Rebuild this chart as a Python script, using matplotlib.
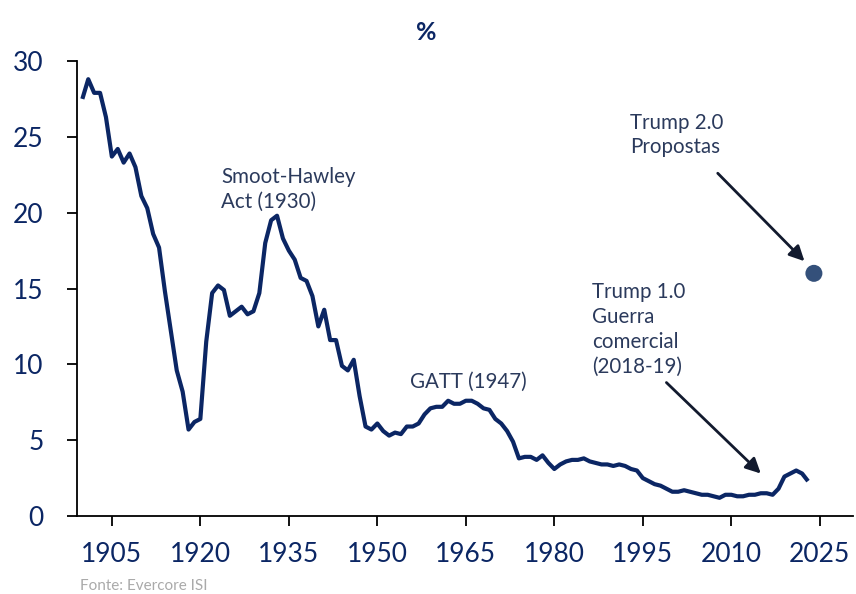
import matplotlib
matplotlib.use("Agg")
import matplotlib.pyplot as plt

years = list(range(1900, 2024))
tariff = [27.5, 28.8, 27.9, 27.9, 26.3, 23.7, 24.2, 23.3, 23.9, 23.0,
          21.1, 20.3, 18.6, 17.7, 14.8, 12.2, 9.6, 8.2, 5.7, 6.2,
          6.4, 11.5, 14.7, 15.2, 14.9, 13.2, 13.5, 13.8, 13.3, 13.5,
          14.7, 18.0, 19.5, 19.8, 18.3, 17.5, 16.9, 15.7, 15.5, 14.5,
          12.5, 13.6, 11.6, 11.6, 9.9, 9.6, 10.3, 7.9, 5.9, 5.7,
          6.1, 5.6, 5.3, 5.5, 5.4, 5.9, 5.9, 6.1, 6.7, 7.1,
          7.2, 7.2, 7.6, 7.4, 7.4, 7.6, 7.6, 7.4, 7.1, 7.0,
          6.4, 6.1, 5.6, 4.9, 3.8, 3.9, 3.9, 3.7, 4.0, 3.5,
          3.1, 3.4, 3.6, 3.7, 3.7, 3.8, 3.6, 3.5, 3.4, 3.4,
          3.3, 3.4, 3.3, 3.1, 3.0, 2.5, 2.3, 2.1, 2.0, 1.8,
          1.6, 1.6, 1.7, 1.6, 1.5, 1.4, 1.4, 1.3, 1.2, 1.4,
          1.4, 1.3, 1.3, 1.4, 1.4, 1.5, 1.5, 1.4, 1.8, 2.6,
          2.8, 3.0, 2.8, 2.3]
proposal_year = [2024]
proposal_value = [16.0]
xticks = [1905, 1920, 1935, 1950, 1965, 1980, 1995, 2010, 2025]
yticks = [0, 5, 10, 15, 20, 25, 30]

plt.rcParams['font.family'] = ['Lato', 'DejaVu Sans']

navy = '#0b2664'
text_col = '#2b3a5c'

fig = plt.figure(figsize=(8.56, 5.94), dpi=100)
ax = fig.add_axes([0.09, 0.1313, 0.907, 0.766])
ax.plot(years, tariff, color=navy, lw=3.0, solid_joinstyle='round', solid_capstyle='butt')
ax.scatter(proposal_year, proposal_value, s=150, color='#34507a', zorder=3, edgecolor='none')

ax.set_xlim(1899.1, 2030.7)
ax.set_ylim(0, 30)
ax.set_xticks(xticks)
ax.set_yticks(yticks)
for s in ['top', 'right']:
    ax.spines[s].set_visible(False)
for s in ['left', 'bottom']:
    ax.spines[s].set_linewidth(1.3)
    ax.spines[s].set_color('black')
ax.tick_params(axis='both', length=7, width=1.3, color='black', labelsize=19, labelcolor=navy)
ax.tick_params(axis='y', pad=17)
ax.tick_params(axis='x', pad=12)

fs = 14.8
ls = 1.3
ax.text(1923.5, 23.0, 'Smoot-Hawley\nAct (1930)', fontsize=fs, color=text_col, va='top', ha='left', linespacing=ls)
ax.text(1955.6, 9.5, 'GATT (1947)', fontsize=fs, color=text_col, va='top', ha='left')
ax.text(1992.8, 26.6, 'Trump 2.0\nPropostas', fontsize=fs, color=text_col, va='top', ha='left', linespacing=ls)
ax.text(1986.4, 15.4, 'Trump 1.0\nGuerra\ncomercial\n(2018-19)', fontsize=fs, color=text_col, va='top', ha='left', linespacing=ls)

arrow_kw = dict(arrowstyle='-|>,head_length=0.9,head_width=0.45', color='#121a2e', lw=2, shrinkA=0, shrinkB=0)
ax.annotate('', xy=(2022.4, 16.8), xytext=(2007.7, 22.6), arrowprops=arrow_kw)
ax.annotate('', xy=(2015.0, 2.8), xytext=(1999.0, 8.8), arrowprops=arrow_kw)

fig.text(0.498, 0.946, '%', fontsize=18, fontweight='bold', color=navy, ha='center', va='center')
fig.text(0.094, 0.002, 'Fonte: Evercore ISI', fontsize=11, color='#aaaaaa', ha='left', va='bottom')

fig.savefig('out.png', dpi=100)
